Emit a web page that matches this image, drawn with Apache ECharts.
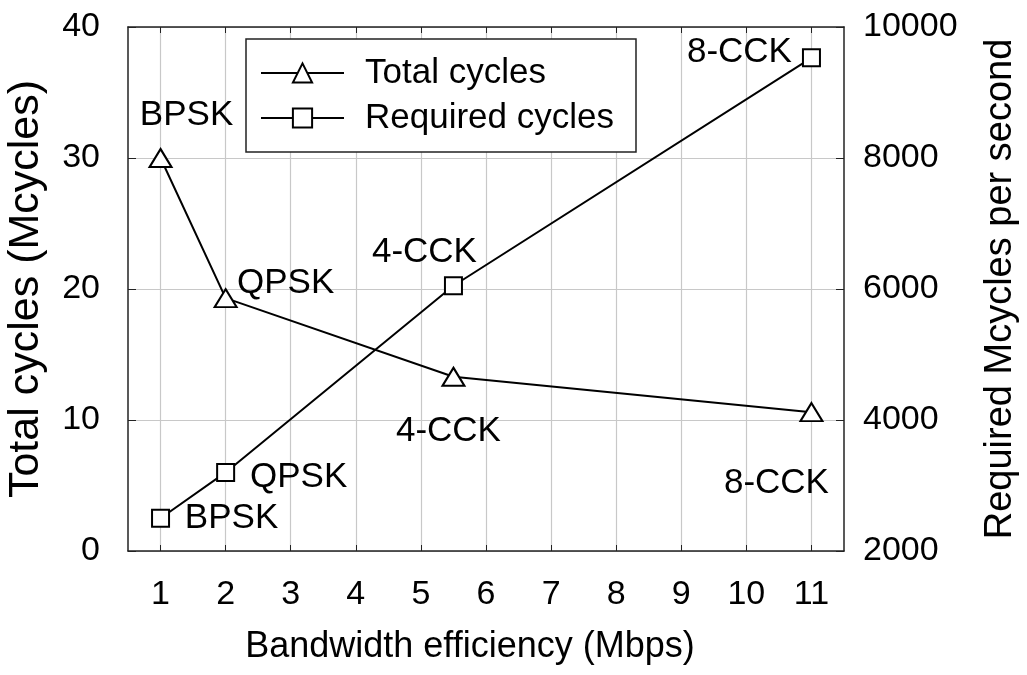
<!DOCTYPE html>
<html>
<head>
<meta charset="utf-8">
<script src="https://cdn.jsdelivr.net/npm/echarts@6/dist/echarts.min.js"></script>
<style>
  html, body { margin: 0; padding: 0; background: #fff; }
  #main { width: 1027px; height: 675px; }
</style>
</head>
<body>
<div id="main"></div>
<script>
// data
var rates = [1, 2, 5.5, 11];                       // Mbps
var modulations = ["BPSK", "QPSK", "4-CCK", "8-CCK"];
var totalCycles = [30, 19.3, 13.3, 10.6];          // Mcycles (left axis)
var requiredCycles = [2500, 3200, 6050, 9530];     // Mcycles per second (right axis)
var xTicks = [1, 2, 3, 4, 5, 6, 7, 8, 9, 10, 11];

var font = "Liberation Sans";

// label offsets for each point (px, from marker centre)
var totalOffsets = [[26, -43], [60, -15], [-5, 55], [-35, 71]];
var requiredOffsets = [[71, 0], [73, 5], [-29, -33], [-72, -5]];

function makeData(ys, offsets) {
  return rates.map(function (x, i) {
    return {
      value: [x, ys[i]],
      label: {
        show: true,
        position: "inside",
        offset: offsets[i],
        formatter: modulations[i]
      }
    };
  });
}

var labelStyle = {
  fontFamily: font,
  fontSize: 35,
  color: "#000",
  align: "center",
  verticalAlign: "middle"
};

var axisLine = { show: true, lineStyle: { color: "#222", width: 1.5 } };

var option = {
  animation: false,
  backgroundColor: "#fff",
  grid: { left: 128, right: 183, top: 27, bottom: 124, outerBoundsMode: "none", containLabel: false },
  legend: {
    orient: "vertical",
    left: 246,
    top: 39,
    padding: [14, 22, 14, 14],
    itemGap: 5,
    itemWidth: 83,
    itemHeight: 24,
    borderColor: "#222",
    borderWidth: 1.5,
    backgroundColor: "#fff",
    textStyle: {
      fontFamily: font,
      fontSize: 35,
      color: "#000",
      lineHeight: 40,
      padding: [0, 0, 0, 16]
    },
    data: ["Total cycles", "Required cycles"]
  },
  xAxis: [
    {
      type: "value",
      min: 0.5,
      max: 11.5,
      name: "Bandwidth efficiency (Mbps)",
      nameLocation: "middle",
      nameGap: 78,
      nameTextStyle: { fontFamily: font, fontSize: 36, color: "#000", padding: [0, 32, 0, 0] },
      axisLine: axisLine,
      axisTick: { show: true, inside: true, length: 6, customValues: xTicks, lineStyle: { color: "#222" } },
      axisLabel: { customValues: xTicks, margin: 27, fontFamily: font, fontSize: 34, color: "#000" },
      splitLine: { show: true, lineStyle: { color: "#c8c8c8", width: 1.2 } }
    },
    {
      type: "value",
      position: "top",
      min: 0.5,
      max: 11.5,
      axisLine: axisLine,
      axisTick: { show: true, inside: true, length: 6, customValues: xTicks, lineStyle: { color: "#222" } },
      axisLabel: { show: false },
      splitLine: { show: false }
    }
  ],
  yAxis: [
    {
      type: "value",
      min: 0,
      max: 40,
      interval: 10,
      name: "Total cycles (Mcycles)",
      nameLocation: "middle",
      nameGap: 80,
      nameTextStyle: { fontFamily: font, fontSize: 43, color: "#000" },
      axisLine: axisLine,
      axisTick: { show: true, inside: true, length: 8, lineStyle: { color: "#222" } },
      axisLabel: { margin: 28, fontFamily: font, fontSize: 34, color: "#000" },
      splitLine: { show: true, lineStyle: { color: "#c8c8c8", width: 1.2 } }
    },
    {
      type: "value",
      min: 2000,
      max: 10000,
      interval: 2000,
      name: "Required Mcycles per second",
      nameLocation: "middle",
      nameGap: 138,
      nameTextStyle: { fontFamily: font, fontSize: 38, color: "#000" },
      axisLine: axisLine,
      axisTick: { show: true, inside: true, length: 8, lineStyle: { color: "#222" } },
      axisLabel: {
        margin: 19, fontFamily: font, fontSize: 34, color: "#000",
        formatter: function (v) { return String(v); }
      },
      splitLine: { show: false }
    }
  ],
  series: [
    {
      name: "Total cycles",
      type: "line",
      xAxisIndex: 0,
      yAxisIndex: 0,
      symbol: "triangle",
      symbolSize: [22, 18],
      showAllSymbol: true,
      lineStyle: { color: "#000", width: 2 },
      itemStyle: { color: "#fff", borderColor: "#000", borderWidth: 2 },
      label: labelStyle,
      z: 3,
      data: makeData(totalCycles, totalOffsets)
    },
    {
      name: "Required cycles",
      type: "line",
      xAxisIndex: 0,
      yAxisIndex: 1,
      symbol: "rect",
      symbolSize: 17,
      showAllSymbol: true,
      lineStyle: { color: "#000", width: 2 },
      itemStyle: { color: "#fff", borderColor: "#000", borderWidth: 2 },
      label: labelStyle,
      z: 3,
      data: makeData(requiredCycles, requiredOffsets)
    }
  ]
};

var myChart = echarts.init(document.getElementById("main"));
myChart.setOption(option);
</script>
</body>
</html>
